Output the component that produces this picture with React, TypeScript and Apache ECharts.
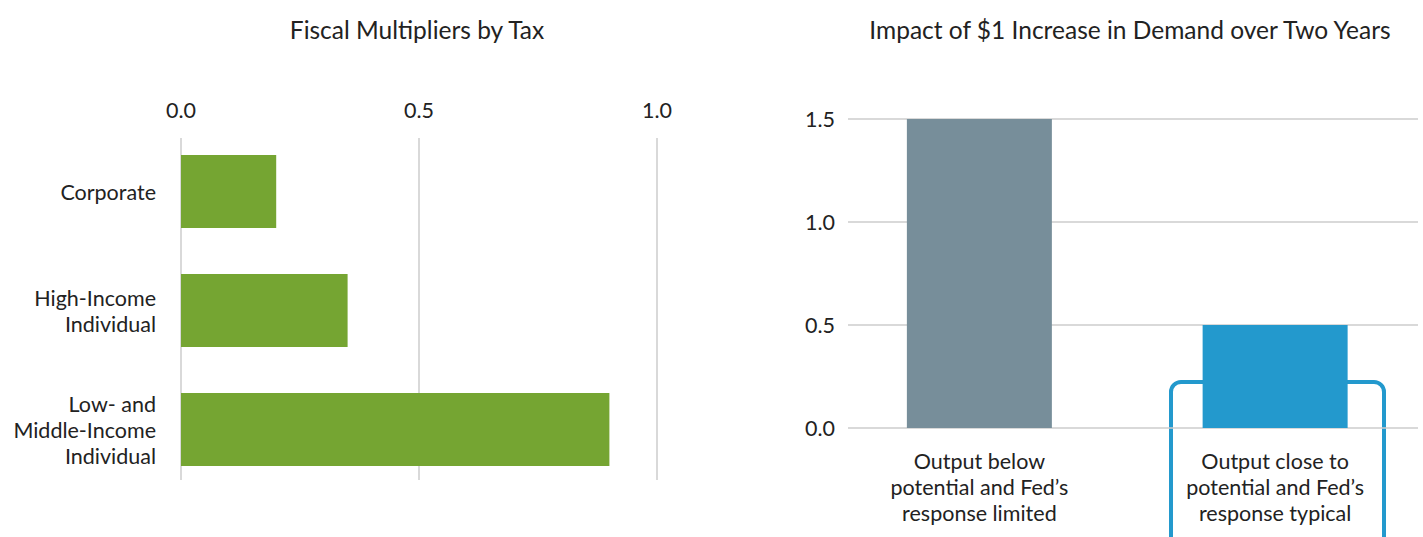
import React, { useEffect, useRef } from "react";
import * as echarts from "echarts";

const taxCategories = ["Corporate", "High-Income\nIndividual", "Low- and\nMiddle-Income\nIndividual"];
const taxMultipliers = [0.2, 0.35, 0.9];
const taxTicks = { min: 0, max: 1, interval: 0.5 };

const demandCategories = [
  "Output below\npotential and Fed’s\nresponse limited",
  "Output close to\npotential and Fed’s\nresponse typical",
];
const demandImpact = [1.5, 0.5];
const demandTicks = { min: 0, max: 1.5, interval: 0.5 };

const FONT = "Lato";
const TEXT = "#222";
const GRID = "#cccccc";

export default function App() {
  const ref = useRef<HTMLDivElement>(null);
  useEffect(() => {
    if (!ref.current) return;
    const chart = echarts.init(ref.current, null, { renderer: "svg" });
    const labelStyle = { color: TEXT, fontFamily: FONT, fontSize: 21.5 };
    chart.setOption({
      animation: false,
      textStyle: { fontFamily: FONT },
      title: [
        {
          text: "Fiscal Multipliers by Tax",
          left: 412,
          top: 12,
          textAlign: "center",
          textStyle: { color: TEXT, fontFamily: FONT, fontSize: 24.5, fontWeight: "normal" },
        },
        {
          text: "Impact of $1 Increase in Demand over Two Years",
          left: 1125,
          top: 12,
          textAlign: "center",
          textStyle: { color: TEXT, fontFamily: FONT, fontSize: 24.5, fontWeight: "normal" },
        },
      ],
      grid: [
        { left: 181, width: 476, top: 138, height: 342 },
        { left: 181, width: 476, top: 132, height: 357 },
        { left: 848, width: 570, top: 119, height: 309 },
        { left: 831.5, width: 592, top: 119, height: 309 },
      ],
      xAxis: [
        {
          gridIndex: 0,
          type: "value",
          position: "top",
          ...taxTicks,
          axisLine: { show: false },
          axisTick: { show: false },
          axisLabel: { ...labelStyle, margin: 17, formatter: (v: number) => v.toFixed(1) },
          splitLine: { show: true, lineStyle: { color: GRID, width: 1.5 } },
        },
        { gridIndex: 1, type: "value", ...taxTicks, show: false },
        { gridIndex: 2, type: "category", data: demandCategories, show: false },
        {
          gridIndex: 3,
          type: "category",
          data: demandCategories,
          axisLine: { show: false },
          axisTick: { show: false },
          axisLabel: { ...labelStyle, margin: 20, lineHeight: 26, align: "center" },
        },
      ],
      yAxis: [
        { gridIndex: 0, type: "category", data: taxCategories, show: false },
        {
          gridIndex: 1,
          type: "category",
          data: taxCategories,
          inverse: true,
          axisLine: { show: false },
          axisTick: { show: false },
          axisLabel: { ...labelStyle, margin: 25, lineHeight: 26, align: "right" },
        },
        {
          gridIndex: 2,
          type: "value",
          ...demandTicks,
          axisLine: { show: false },
          axisTick: { show: false },
          axisLabel: { ...labelStyle, margin: 13, formatter: (v: number) => v.toFixed(1) },
          splitLine: { show: true, lineStyle: { color: GRID, width: 1.5 } },
        },
        { gridIndex: 3, type: "value", ...demandTicks, show: false },
      ],
      graphic: [
        {
          type: "rect",
          z: 0,
          shape: { x: 1171, y: 382, width: 213, height: 180, r: 10 },
          style: { fill: "none", stroke: "#2399cd", lineWidth: 4 },
        },
      ],
      series: [
        {
          type: "bar",
          xAxisIndex: 1,
          yAxisIndex: 1,
          data: taxMultipliers,
          barWidth: 73,
          itemStyle: { color: "#75a532" },
          z: 3,
        },
        {
          type: "bar",
          xAxisIndex: 3,
          yAxisIndex: 3,
          data: demandImpact.map((v, i) => ({
            value: v,
            itemStyle: { color: i === 0 ? "#778e9a" : "#2399cd" },
          })),
          barWidth: 145,
          z: 3,
        },
      ],
    });
    return () => chart.dispose();
  }, []);
  return (
    <div
      ref={ref}
      style={{ position: "fixed", left: 0, top: 0, width: 1423, height: 537, background: "#fff" }}
    />
  );
}
